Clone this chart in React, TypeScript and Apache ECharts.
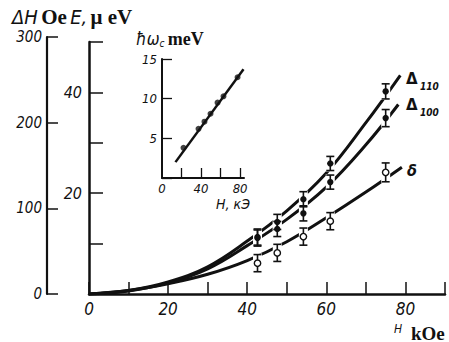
import React, { useEffect, useRef } from "react";
import * as echarts from "echarts";

// ---- main panel: measured points (H in kOe) ----
const pointH = [42.6, 47.6, 54.2, 61.0, 75.0];
const delta110 = [11.3, 14.3, 18.8, 25.9, 40.2]; // E, µeV
const delta110Err = [1.6, 1.5, 1.5, 1.4, 1.5];
const delta100 = [11.1, 12.9, 16.0, 22.2, 34.9]; // E, µeV
const delta100Err = [1.6, 1.5, 1.5, 1.4, 1.7];
const deltaSmall = [36, 48, 67, 85, 142]; // ΔH, Oe
const deltaSmallErr = [10, 10, 10, 10, 11];

// ---- main panel: drawn curves ----
const curve110 = [[0, 0], [10, 0.7], [20, 2.4], [30, 5.4], [40, 10.5], [50, 16.5], [60, 24], [70, 34], [78.7, 43.4]];
const curve100 = [[0, 0], [10, 0.6], [20, 2.2], [30, 5.0], [40, 9.6], [50, 14.8], [60, 21.2], [70, 29.6], [78.2, 37.6]];
const curveSmall = [[0, 0], [10, 4], [20, 12], [30, 23], [40, 39], [50, 61], [60, 89], [70, 119], [79.1, 148]];

// ---- inset ----
const insetH = [22, 37.4, 43.5, 49.7, 56.9, 63, 77.4];
const insetW = [3.8, 6.2, 7.1, 8.1, 9.5, 10.3, 12.7];
const insetLine = [[13.8, 2.0], [83.5, 13.7]];

// ---- tick labels ----
const mainXLabels = [0, 20, 40, 60, 80];
const dHLabels = [0, 100, 200, 300];
const eLabels = [20, 40];
const insetXTicks = [20, 40, 60, 80];
const insetXLabels = [0, 40, 80];
const insetYLabels = [5, 10, 15];

const INK = "#111";
const FONT_NUM = "'DejaVu Sans Condensed', 'Liberation Sans Narrow', 'DejaVu Sans', sans-serif";
const FONT_SERIF = "'Liberation Serif', 'DejaVu Serif', serif";

function rows(xs: number[], ys: number[], es: number[]) {
  return xs.map((x, i) => [x, ys[i], es[i]]);
}

function gapRender(params: any, api: any) {
  const x = api.value(0), y = api.value(1), e = api.value(2);
  const t = api.coord([x, y + e]);
  const b = api.coord([x, y - e]);
  return {
    type: "rect",
    shape: { x: t[0] - 4.5, y: t[1] - 1, width: 9, height: b[1] - t[1] + 2 },
    style: { fill: "#fff" },
  };
}

function barRender(open: boolean) {
  return (params: any, api: any) => {
    const x = api.value(0), y = api.value(1), e = api.value(2);
    const c = api.coord([x, y]);
    const t = api.coord([x, y + e]);
    const b = api.coord([x, y - e]);
    const ls = { stroke: INK, lineWidth: 1.6 };
    return {
      type: "group",
      children: [
        { type: "line", shape: { x1: c[0], y1: t[1], x2: c[0], y2: b[1] }, style: ls },
        { type: "line", shape: { x1: c[0] - 4, y1: t[1], x2: c[0] + 4, y2: t[1] }, style: ls },
        { type: "line", shape: { x1: c[0] - 4, y1: b[1], x2: c[0] + 4, y2: b[1] }, style: ls },
        {
          type: "circle",
          shape: { cx: c[0], cy: c[1], r: 3.2 },
          style: open ? { fill: "#fff", stroke: INK, lineWidth: 1.4 } : { fill: INK },
        },
      ],
    };
  };
}

function onlyIn(list: number[]) {
  return (v: number) => (list.indexOf(Math.round(v * 1000) / 1000) >= 0 ? String(v) : "");
}

export default function App() {
  const ref = useRef<HTMLDivElement>(null);
  useEffect(() => {
    if (!ref.current) return;
    const chart = echarts.init(ref.current, undefined, { renderer: "svg" });
    const axisLine = (w: number) => ({ onZero: false, lineStyle: { color: INK, width: w } });
    const numLabel = (size: number, margin: number, list: number[]) => ({
      customValues: list,
      formatter: onlyIn(list),
      color: INK,
      fontStyle: "italic",
      fontFamily: FONT_NUM,
      fontSize: size,
      margin,
    });
    const option: any = {
      animation: false,
      backgroundColor: "#fff",
      grid: [
        { left: 89, right: 4, top: 37, bottom: 48 },
        { left: 89, right: 4, top: 42, bottom: 48 },
        { left: 162, top: 59, width: 82, height: 119 },
      ],
      xAxis: [
        { gridIndex: 0, type: "value", min: 0, max: 90, show: false },
        {
          gridIndex: 1, type: "value", min: 0, max: 90, interval: 10,
          axisLine: axisLine(2.5),
          axisTick: { inside: true, length: 12, lineStyle: { color: INK, width: 1.5 } },
          axisLabel: numLabel(17, 6, mainXLabels),
          splitLine: { show: false },
        },
        {
          gridIndex: 2, type: "value", min: 0, max: 84, interval: 20,
          axisLine: axisLine(2),
          axisTick: { inside: true, length: 10, customValues: insetXTicks, lineStyle: { color: INK, width: 1.3 } },
          axisLabel: numLabel(13, 4, insetXLabels),
          splitLine: { show: false },
        },
      ],
      yAxis: [
        {
          gridIndex: 0, type: "value", min: 0, max: 300, interval: 100, position: "left", offset: 42,
          axisLine: axisLine(2.2),
          axisTick: { inside: true, length: 11, lineStyle: { color: INK, width: 1.5 } },
          axisLabel: numLabel(15, 5, dHLabels),
          splitLine: { show: false },
        },
        {
          gridIndex: 1, type: "value", min: 0, max: 50, interval: 10, position: "left",
          axisLine: axisLine(2.5),
          axisTick: { inside: true, length: 14, lineStyle: { color: INK, width: 1.5 } },
          axisLabel: numLabel(16, 7, eLabels),
          splitLine: { show: false },
        },
        {
          gridIndex: 2, type: "value", min: 0, max: 15, interval: 5, position: "left",
          axisLine: axisLine(2),
          axisTick: { inside: true, length: 10, lineStyle: { color: INK, width: 1.3 } },
          axisLabel: numLabel(13, 5, insetYLabels),
          splitLine: { show: false },
        },
      ],
      series: [
        { type: "line", xAxisIndex: 1, yAxisIndex: 1, data: curve110, smooth: 0.4, symbol: "none", lineStyle: { color: INK, width: 3 }, z: 2 },
        { type: "line", xAxisIndex: 1, yAxisIndex: 1, data: curve100, smooth: 0.4, symbol: "none", lineStyle: { color: INK, width: 3 }, z: 2 },
        { type: "line", xAxisIndex: 0, yAxisIndex: 0, data: curveSmall, smooth: 0.4, symbol: "none", lineStyle: { color: INK, width: 3 }, z: 2 },
        { type: "custom", xAxisIndex: 1, yAxisIndex: 1, data: rows(pointH, delta110, delta110Err), encode: { x: 0, y: 1 }, renderItem: gapRender, z: 3, clip: false },
        { type: "custom", xAxisIndex: 1, yAxisIndex: 1, data: rows(pointH, delta100, delta100Err), encode: { x: 0, y: 1 }, renderItem: gapRender, z: 3, clip: false },
        { type: "custom", xAxisIndex: 0, yAxisIndex: 0, data: rows(pointH, deltaSmall, deltaSmallErr), encode: { x: 0, y: 1 }, renderItem: gapRender, z: 3, clip: false },
        { type: "custom", xAxisIndex: 1, yAxisIndex: 1, data: rows(pointH, delta110, delta110Err), encode: { x: 0, y: 1 }, renderItem: barRender(false), z: 4, clip: false },
        { type: "custom", xAxisIndex: 1, yAxisIndex: 1, data: rows(pointH, delta100, delta100Err), encode: { x: 0, y: 1 }, renderItem: barRender(false), z: 4, clip: false },
        { type: "custom", xAxisIndex: 0, yAxisIndex: 0, data: rows(pointH, deltaSmall, deltaSmallErr), encode: { x: 0, y: 1 }, renderItem: barRender(true), z: 4, clip: false },
        { type: "line", xAxisIndex: 2, yAxisIndex: 2, data: insetLine, symbol: "none", lineStyle: { color: INK, width: 2.5 }, clip: false, z: 5 },
        { type: "scatter", xAxisIndex: 2, yAxisIndex: 2, data: insetH.map((h, i) => [h, insetW[i]]), symbolSize: 6, itemStyle: { color: INK }, z: 6 },
      ],
      graphic: [
        {
          type: "text", x: 12, y: 17,
          style: {
            text: "{a|ΔH} {b|Oe} {a|E,} {b|μ eV}",
            verticalAlign: "middle", align: "left",
            rich: {
              a: { fontStyle: "italic", fontFamily: FONT_NUM, fontSize: 20, fill: INK },
              b: { fontWeight: "bold", fontFamily: FONT_SERIF, fontSize: 21, fill: INK },
            },
          },
        },
        { type: "text", x: 406, y: 79, style: { text: "Δ", fontWeight: "bold", fontFamily: "'DejaVu Sans', sans-serif", fontSize: 15, fill: INK, verticalAlign: "middle" } },
        { type: "text", x: 420, y: 86, style: { text: "110", fontWeight: "bold", fontStyle: "italic", fontFamily: FONT_NUM, fontSize: 10, fill: INK, verticalAlign: "middle" } },
        { type: "text", x: 406, y: 105, style: { text: "Δ", fontWeight: "bold", fontFamily: "'DejaVu Sans', sans-serif", fontSize: 15, fill: INK, verticalAlign: "middle" } },
        { type: "text", x: 420, y: 112, style: { text: "100", fontWeight: "bold", fontStyle: "italic", fontFamily: FONT_NUM, fontSize: 10, fill: INK, verticalAlign: "middle" } },
        { type: "text", x: 407, y: 170, style: { text: "δ", fontWeight: "bold", fontStyle: "italic", fontFamily: FONT_NUM, fontSize: 16, fill: INK, verticalAlign: "middle" } },
        { type: "text", x: 394, y: 329, style: { text: "H", fontStyle: "italic", fontFamily: FONT_NUM, fontSize: 12, fill: INK, verticalAlign: "middle" } },
        { type: "text", x: 411, y: 333, style: { text: "kOe", fontWeight: "bold", fontFamily: FONT_SERIF, fontSize: 19, fill: INK, verticalAlign: "middle" } },
        {
          type: "text", x: 136, y: 39,
          style: {
            text: "{a|ħω}{s|c} {b|meV}",
            verticalAlign: "middle", align: "left",
            rich: {
              a: { fontStyle: "italic", fontFamily: FONT_NUM, fontSize: 17, fill: INK },
              s: { fontStyle: "italic", fontFamily: FONT_NUM, fontSize: 10, fill: INK, padding: [8, 0, 0, 0] },
              b: { fontWeight: "bold", fontFamily: FONT_SERIF, fontSize: 18, fill: INK },
            },
          },
        },
        { type: "text", x: 233, y: 204, style: { text: "H, кЭ", fontStyle: "italic", fontFamily: FONT_NUM, fontSize: 14, fill: INK, align: "center", verticalAlign: "middle" } },
      ],
    };
    chart.setOption(option);
    return () => chart.dispose();
  }, []);
  return <div ref={ref} style={{ position: "absolute", left: 0, top: 0, width: 449, height: 342 }} />;
}
